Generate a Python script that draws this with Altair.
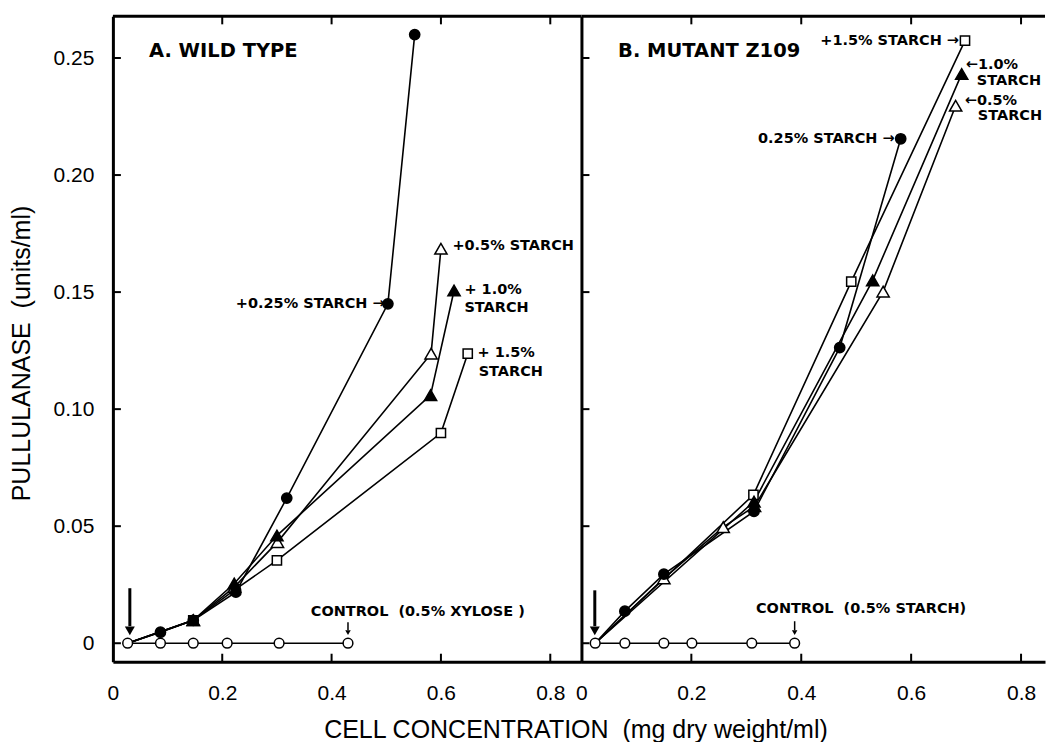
import altair as alt
import pandas as pd

NB = "\u00a0"

# ---------------- values ----------------
X_TICKS = [0, 0.2, 0.4, 0.6, 0.8]
X_INNER_TICKS = [0.2, 0.4, 0.6, 0.8]
Y_TICKS = [0, 0.05, 0.10, 0.15, 0.20, 0.25]

# Panel A : wild type
A_ctrl_x = [0.027, 0.087, 0.147, 0.209, 0.304, 0.430]
A_ctrl_y = [0.0, 0.0, 0.0, 0.0, 0.0, 0.0]
A_s025_x = [0.027, 0.087, 0.147, 0.225, 0.318, 0.503, 0.552]
A_s025_y = [0.0, 0.0047, 0.0098, 0.0218, 0.0620, 0.1450, 0.2600]
A_s05_x = [0.027, 0.147, 0.222, 0.301, 0.582, 0.600]
A_s05_y = [0.0, 0.0098, 0.0240, 0.0432, 0.1237, 0.1685]
A_s10_x = [0.027, 0.147, 0.222, 0.300, 0.581, 0.624]
A_s10_y = [0.0, 0.0098, 0.0255, 0.0460, 0.1060, 0.1507]
A_s15_x = [0.027, 0.147, 0.224, 0.300, 0.600, 0.649]
A_s15_y = [0.0, 0.0098, 0.0230, 0.0354, 0.0898, 0.1237]

# Panel B : mutant Z109
B_ctrl_x = [0.025, 0.079, 0.150, 0.201, 0.310, 0.388]
B_ctrl_y = [0.0, 0.0, 0.0, 0.0, 0.0, 0.0]
B_s025_x = [0.025, 0.079, 0.150, 0.314, 0.470, 0.581]
B_s025_y = [0.0, 0.0137, 0.0295, 0.0563, 0.1263, 0.2155]
B_s05_x = [0.025, 0.150, 0.258, 0.315, 0.549, 0.681]
B_s05_y = [0.0, 0.0277, 0.0496, 0.0585, 0.1502, 0.2296]
B_s10_x = [0.025, 0.314, 0.530, 0.692]
B_s10_y = [0.0, 0.0605, 0.1550, 0.2432]
B_s15_x = [0.025, 0.313, 0.491, 0.698]
B_s15_y = [0.0, 0.0634, 0.1545, 0.2574]

# annotation texts (data coordinates)
A_header = ("A." + NB + "WILD" + NB + "TYPE", 0.066, 0.2531)
A_notes = [
    ("+0.25% STARCH \u2192", 0.497, 0.1451, "right"),
    ("+0.5% STARCH", 0.621, 0.1695, "left"),
    ("+ 1.0%", 0.643, 0.1507, "left"),
    ("STARCH", 0.643, 0.1434, "left"),
    ("+ 1.5%", 0.667, 0.1238, "left"),
    ("STARCH", 0.669, 0.1157, "left"),
    ("CONTROL" + NB + NB + "(0.5% XYLOSE" + NB + ")", 0.362, 0.0132, "left"),
]
B_header = ("B." + NB + "MUTANT" + NB + "Z109", 0.0667, 0.2531)
B_notes = [
    ("+1.5% STARCH \u2192", 0.687, 0.2574, "right"),
    ("\u21901.0%", 0.6995, 0.2470, "left"),
    ("STARCH", 0.7195, 0.2400, "left"),
    ("\u21900.5%", 0.6976, 0.2318, "left"),
    ("STARCH", 0.7213, 0.2252, "left"),
    ("0.25% STARCH \u2192", 0.570, 0.2156, "right"),
    ("CONTROL" + NB + NB + "(0.5% STARCH)", 0.3176, 0.0145, "left"),
]
# arrows: x, shaft top, shaft bottom, head centre, shaft width, head size
A_arrows = [(0.031, 0.0235, 0.0073, 0.0053, 3, 100), (0.430, 0.0090, 0.0055, 0.0045, 1.5, 30)]
B_arrows = [(0.0243, 0.0226, 0.0073, 0.0053, 3, 100), (0.388, 0.0094, 0.0055, 0.0045, 1.5, 30)]

Y_TITLE = "PULLULANASE" + NB + NB + "(units/ml)"
X_TITLE = "CELL CONCENTRATION" + NB + NB + "(mg dry weight/ml)"

# ---------------- layout / style ----------------
YMIN, YMAX = -0.0079, 0.2678
A_XMAX, B_XMAX = 0.857, 0.8436
A_W, B_W, H = 469, 464, 646
NOTE_FONT = "DejaVu Sans"
AX_FONT = "Liberation Sans"

MARKER = {
    "ctrl": dict(shape="circle", fill="white", size=95),
    "s025": dict(shape="circle", fill="black", size=105),
    "s05": dict(shape="triangle-up", fill="white", size=150),
    "s10": dict(shape="triangle-up", fill="black", size=150),
    "s15": dict(shape="square", fill="white", size=85),
}


def sdf(xs, ys):
    return pd.DataFrame({"x": xs, "y": ys, "idx": list(range(len(xs)))})


def panel(series, marker_order, header, notes, arrows, xmax, width, first):
    xsc = alt.Scale(domain=[0, xmax], nice=False, zero=False)
    ysc = alt.Scale(domain=[YMIN, YMAX], nice=False, zero=False)
    lab_expr_x = "datum.value == 0 ? '0' : format(datum.value, '.1f')"
    lab_expr_y = "datum.value == 0 ? '0' : format(datum.value, '.2f')"
    xaxis_kw = dict(
        values=X_TICKS, labelExpr=lab_expr_x, domain=True, domainColor="black",
        domainWidth=3, ticks=False, tickSize=0, grid=False, labelFont=AX_FONT,
        labelFontSize=21, labelColor="black", labelPadding=21, labelFlush=False,
        labelOverlap=False,
    )
    if first:
        xaxis = alt.Axis(title=None, **xaxis_kw)
        yaxis = alt.Axis(
            values=Y_TICKS, labelExpr=lab_expr_y, domain=True, domainColor="black",
            domainWidth=3, ticks=False, tickSize=0, grid=False, labelFont=AX_FONT,
            labelFontSize=21, labelColor="black", labelPadding=19, labelOverlap=False,
            title=Y_TITLE, titleFont=AX_FONT, titleFontSize=25,
            titleFontWeight="normal", titleColor="black", titleX=-91.5, titleY=337,
            titleAngle=270, titleAlign="center", titleBaseline="middle",
        )
    else:
        xaxis = alt.Axis(
            title=X_TITLE, titleFont=AX_FONT,
            titleFontSize=25, titleFontWeight="normal", titleColor="black",
            titleX=-6, titleY=56, titleAlign="center", titleBaseline="top", **xaxis_kw,
        )
        yaxis = alt.Axis(
            values=Y_TICKS, domain=True, domainColor="black", domainWidth=3,
            ticks=False, tickSize=0, labels=False, grid=False, title=None,
        )

    def X(field):
        return alt.X(field, type="quantitative", scale=xsc, axis=xaxis)

    def Y(field):
        return alt.Y(field, type="quantitative", scale=ysc, axis=yaxis)

    one = pd.DataFrame({"k": [0]})
    xt = pd.DataFrame({"v": X_INNER_TICKS})
    yt = pd.DataFrame({"v": Y_TICKS})
    layers = []
    layers.append(alt.Chart(xt).mark_rule(color="black", strokeWidth=2).encode(
        x=X("v"), y=alt.value(H), y2=alt.value(H - 8)))
    layers.append(alt.Chart(yt).mark_rule(color="black", strokeWidth=2).encode(
        y=Y("v"), x=alt.value(0), x2=alt.value(8)))
    layers.append(alt.Chart(xt).mark_rule(color="black", strokeWidth=2).encode(
        x=X("v"), y=alt.value(0), y2=alt.value(8)))
    layers.append(alt.Chart(one).mark_rule(color="black", strokeWidth=3).encode(
        x=alt.value(0), x2=alt.value(width), y=alt.value(0)))

    for name, df in series.items():
        layers.append(alt.Chart(df).mark_line(color="black", strokeWidth=1.6).encode(
            x=X("x"), y=Y("y"), order="idx:Q"))

    # arrows
    arr = pd.DataFrame(arrows, columns=["x", "y1", "y2", "yh", "w", "hs"])
    layers.append(alt.Chart(arr).mark_rule(color="black").encode(
        x=X("x"), y=Y("y1"), y2="y2:Q",
        strokeWidth=alt.StrokeWidth("w:Q", scale=None, legend=None)))
    layers.append(alt.Chart(arr).mark_point(shape="triangle-down", filled=True, color="black",
                                            opacity=1).encode(
        x=X("x"), y=Y("yh"), size=alt.Size("hs:Q", scale=None, legend=None)))

    for name in marker_order:
        m = MARKER[name]
        ch = alt.Chart(series[name]).mark_point(
            shape=m["shape"], filled=True, fill=m["fill"], stroke="black",
            strokeWidth=1.5, size=m["size"], opacity=1,
        ).encode(x=X("x"), y=Y("y"))
        if name != "ctrl":
            ch = ch.transform_filter("datum.idx > 0")
        layers.append(ch)

    hd = pd.DataFrame([header], columns=["t", "x", "y"])
    layers.append(alt.Chart(hd).mark_text(
        align="left", baseline="middle", font=NOTE_FONT, fontWeight="bold",
        fontSize=19.5, color="black").encode(x=X("x"), y=Y("y"), text="t:N"))
    nt = pd.DataFrame(notes, columns=["t", "x", "y", "align"])
    for al in ["left", "right"]:
        sub = nt[nt["align"] == al]
        layers.append(alt.Chart(sub).mark_text(
            align=al, baseline="middle", font=NOTE_FONT, fontWeight="bold",
            fontSize=14.5, color="black").encode(x=X("x"), y=Y("y"), text="t:N"))

    return alt.layer(*layers).properties(width=width, height=H)


A_series = {
    "ctrl": sdf(A_ctrl_x, A_ctrl_y),
    "s025": sdf(A_s025_x, A_s025_y),
    "s05": sdf(A_s05_x, A_s05_y),
    "s10": sdf(A_s10_x, A_s10_y),
    "s15": sdf(A_s15_x, A_s15_y),
}
B_series = {
    "ctrl": sdf(B_ctrl_x, B_ctrl_y),
    "s025": sdf(B_s025_x, B_s025_y),
    "s05": sdf(B_s05_x, B_s05_y),
    "s10": sdf(B_s10_x, B_s10_y),
    "s15": sdf(B_s15_x, B_s15_y),
}

pa = panel(A_series, ["s15", "s05", "s10", "s025", "ctrl"], A_header, A_notes, A_arrows,
           A_XMAX, A_W, True)
pb = panel(B_series, ["s05", "s15", "s10", "s025", "ctrl"], B_header, B_notes, B_arrows,
           B_XMAX, B_W, False)

chart = alt.hconcat(pa, pb, spacing=0, bounds="flush").properties(
    padding={"left": 9, "top": 14, "right": 0, "bottom": 0},
    background="white",
).configure_view(strokeWidth=0)

chart.save("out.html", embed_options={"renderer": "svg", "actions": False})
